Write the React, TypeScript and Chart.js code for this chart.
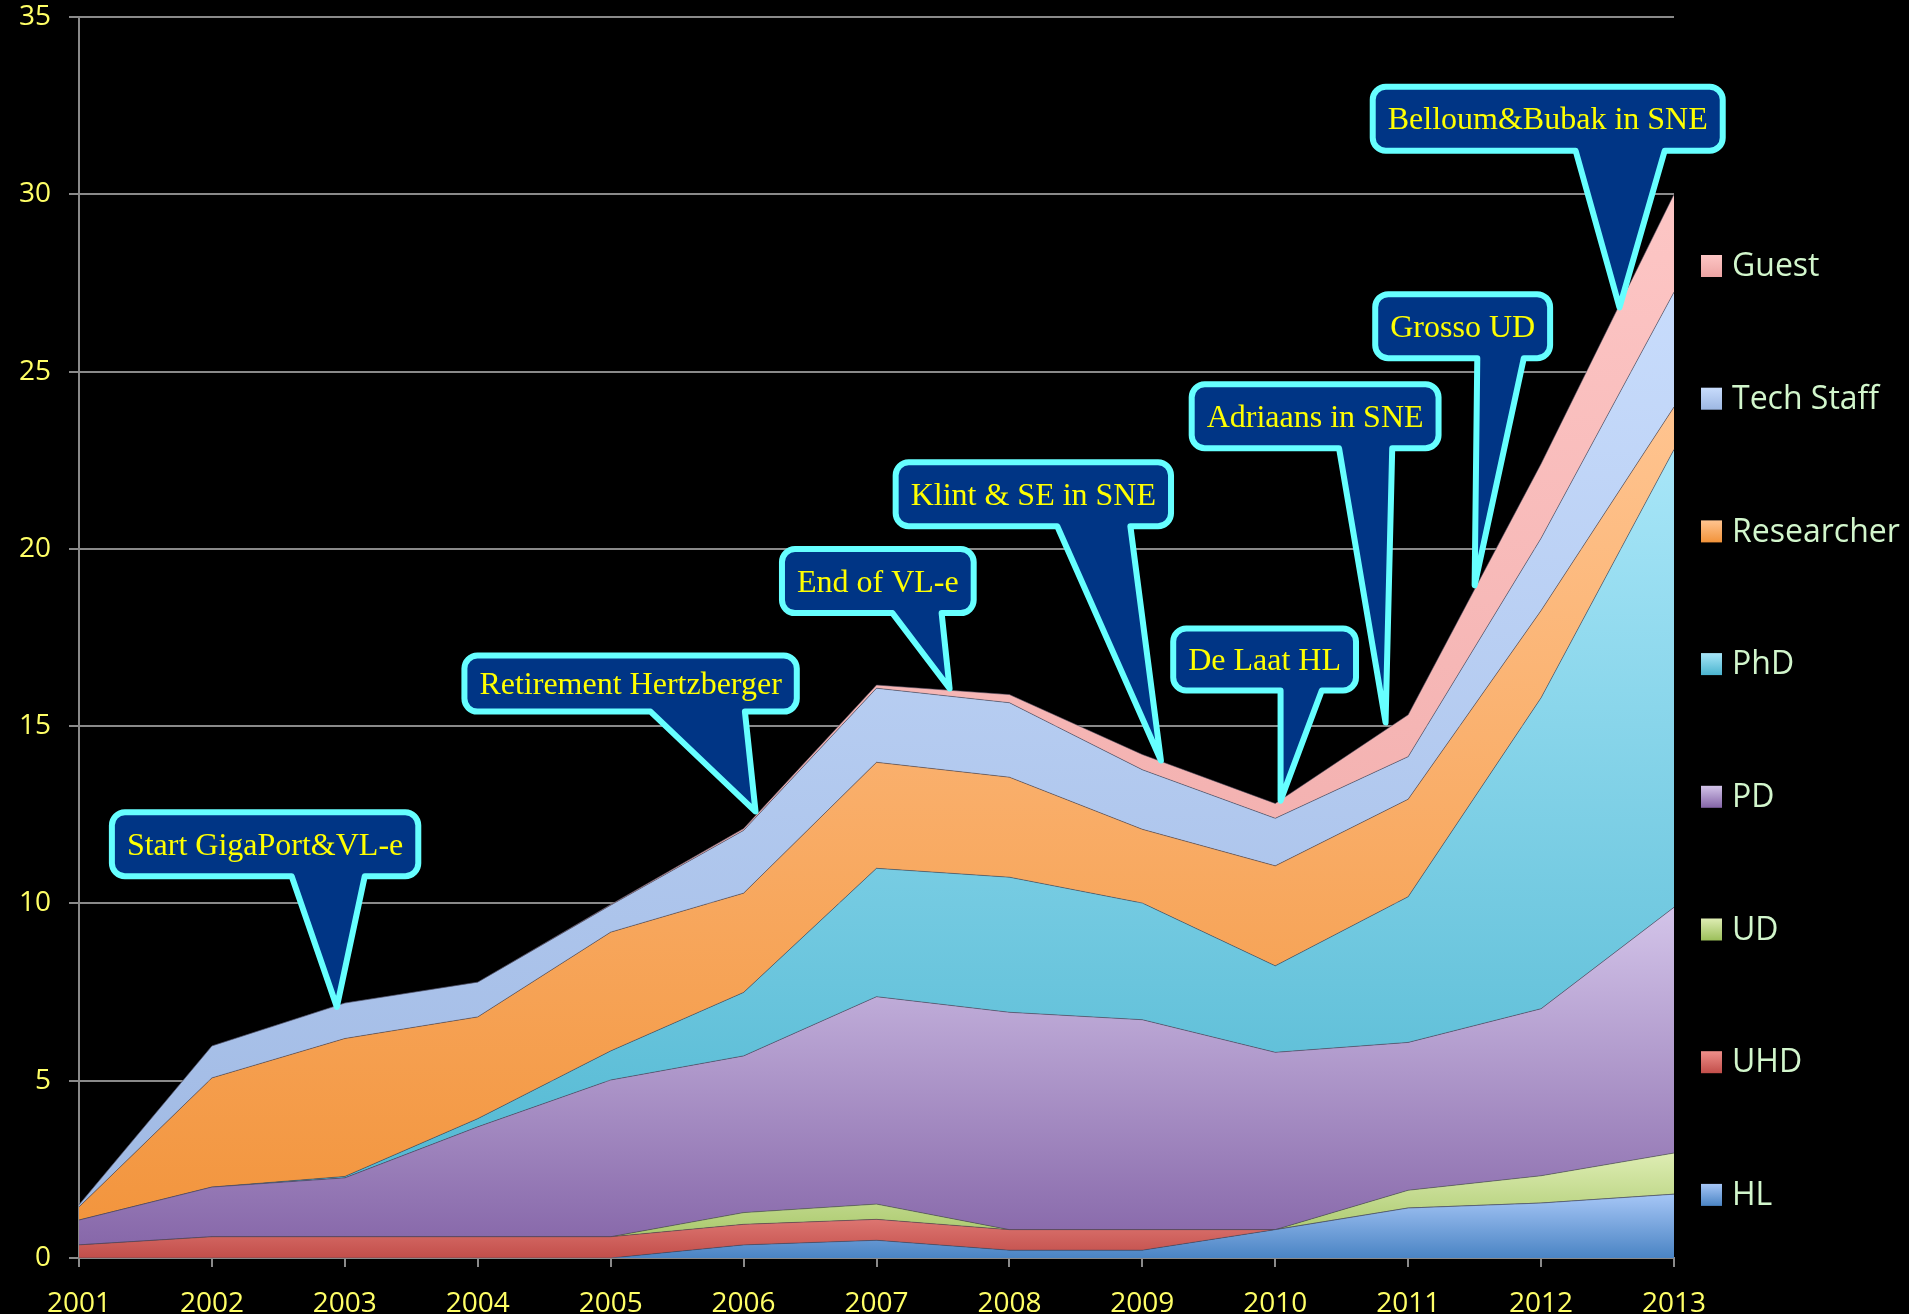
import React, { useEffect, useRef } from 'react';
import { Chart, registerables } from 'chart.js';

Chart.register(...registerables);

// ---------- data ----------
const YEARS = ['2001', '2002', '2003', '2004', '2005', '2006', '2007', '2008', '2009', '2010', '2011', '2012', '2013'];
const Y_TICKS = [0, 5, 10, 15, 20, 25, 30, 35];

const HL = [0, 0, 0, 0, 0, 0.37, 0.5, 0.22, 0.22, 0.8, 1.41, 1.55, 1.8];
const UHD = [0.37, 0.6, 0.6, 0.6, 0.6, 0.58, 0.59, 0.58, 0.58, 0, 0, 0, 0];
const UD = [0, 0, 0, 0, 0, 0.33, 0.43, 0, 0, 0, 0.5, 0.77, 1.16];
const PD = [0.7, 1.4, 1.66, 3.1, 4.42, 4.42, 5.85, 6.13, 5.92, 5.0, 4.17, 4.71, 6.93];
const PHD = [0, 0, 0.04, 0.23, 0.82, 1.79, 3.62, 3.81, 3.29, 2.44, 4.11, 8.77, 12.91];
const RESEARCHER = [0.37, 3.08, 3.89, 2.87, 3.35, 2.8, 2.99, 2.82, 2.08, 2.82, 2.75, 2.46, 1.2];
const TECH_STAFF = [0.06, 0.9, 1.0, 0.98, 0.76, 1.77, 2.09, 2.1, 1.68, 1.34, 1.2, 2.04, 3.24];
const GUEST = [0, 0, 0, 0, 0.02, 0.05, 0.09, 0.23, 0.43, 0.42, 1.18, 2.1, 2.76];

const SERIES_LABELS = ['HL', 'UHD', 'UD', 'PD', 'PhD', 'Researcher', 'Tech Staff', 'Guest'];
const SERIES_VALUES = [HL, UHD, UD, PD, PHD, RESEARCHER, TECH_STAFF, GUEST];

// callout annotations: text, box centre (year, value), tail base (year from, year to), tip (year, value)
const CALLOUT_TEXTS = [
  'Start GigaPort&VL-e',
  'Retirement Hertzberger',
  'End of VL-e',
  'Klint & SE in SNE',
  'De Laat HL',
  'Adriaans in SNE',
  'Grosso UD',
  'Belloum&Bubak in SNE',
];
const CALLOUT_BOX = [
  [2002.40, 11.67], [2005.15, 16.2], [2007.01, 19.09], [2008.18, 21.54],
  [2009.92, 16.88], [2010.30, 23.74], [2011.41, 26.28], [2012.05, 32.13],
];
const CALLOUT_TAIL = [
  [2002.60, 2003.15], [2005.30, 2006.01], [2007.12, 2007.49], [2008.36, 2008.91],
  [2010.04, 2010.35], [2010.48, 2010.88], [2011.52, 2011.87], [2012.26, 2012.93],
];
const CALLOUT_TIP = [
  [2002.94, 7.08], [2006.09, 12.59], [2007.55, 16.06], [2009.14, 14.03],
  [2010.04, 12.90], [2010.83, 15.10], [2011.50, 18.97], [2012.59, 26.81],
];

// ---------- styles ----------
const CALLOUT_HEIGHTS = [64, 56, 64, 64, 62, 64, 64, 64];
const GRADIENTS: Record<string, [string, string]> = {
  'HL': ['#a6c6f6', '#4a84c4'],
  'UHD': ['#ee8f8a', '#c24e4a'],
  'UD': ['#deedb3', '#9cbf5a'],
  'PD': ['#d3c4e9', '#8464a7'],
  'PhD': ['#a8e6f8', '#4ab4cf'],
  'Researcher': ['#ffc490', '#f2933a'],
  'Tech Staff': ['#c8dcfc', '#9db7e2'],
  'Guest': ['#fdc6c5', '#eda4a3'],
};
const BG = '#000000';
const GRID = '#8a8a8a';
const TICK_COLOR = '#ffff66';
const LEGEND_COLOR = '#d2f6cc';
const TICK_FONT = { family: '"Open Sans", sans-serif', size: 28 };

const W = 1909;
const H = 1314;

export default function App() {
  const ref = useRef<HTMLCanvasElement | null>(null);

  useEffect(() => {
    document.body.style.margin = '0';
    document.body.style.background = BG;
    document.body.style.overflow = 'hidden';
    const canvas = ref.current;
    if (!canvas) return;

    const year0 = Number(YEARS[0]);

    // cumulative max per series (for gradient extent)
    const cumMax: number[] = [];
    const running = YEARS.map(() => 0);
    SERIES_VALUES.forEach((vals, si) => {
      vals.forEach((v, i) => (running[i] += v));
      cumMax[si] = Math.max(...running);
    });

    const makeFill = (label: string, maxVal: number) => (ctx: any) => {
      const chart = ctx.chart;
      const y = chart.scales && chart.scales.y;
      const [top, bottom] = GRADIENTS[label];
      if (!chart.chartArea || !y) return bottom;
      const y0 = y.getPixelForValue(maxVal);
      const y1 = y.getPixelForValue(0);
      const g = chart.ctx.createLinearGradient(0, y0, 0, y1);
      g.addColorStop(0, top);
      g.addColorStop(1, bottom);
      return g;
    };

    const datasets = SERIES_LABELS.map((label, si) => ({
      label,
      data: SERIES_VALUES[si],
      fill: si === 0 ? 'origin' : '-1',
      backgroundColor: makeFill(label, cumMax[si]),
      borderColor: 'rgba(70,70,90,0.55)',
      borderWidth: 1,
      pointRadius: 0,
      pointHoverRadius: 0,
      tension: 0,
    }));

    const bgPlugin = {
      id: 'bg',
      beforeDraw(chart: any) {
        const c = chart.ctx;
        c.save();
        c.fillStyle = BG;
        c.fillRect(0, 0, chart.width, chart.height);
        c.restore();
      },
    };

    const calloutPlugin = {
      id: 'callouts',
      afterDatasetsDraw(chart: any) {
        const { ctx, scales } = chart;
        const xs = scales.x;
        const ys = scales.y;
        const px = (yr: number) => xs.getPixelForValue(yr - year0);
        ctx.save();
        ctx.font = '32px "Liberation Serif", "Times New Roman", serif';
        CALLOUT_TEXTS.forEach((text, i) => {
          const tw = ctx.measureText(text).width;
          const cx = px(CALLOUT_BOX[i][0]);
          const cy = ys.getPixelForValue(CALLOUT_BOX[i][1]);
          const w = tw + 30;
          const h = CALLOUT_HEIGHTS[i];
          const r = 13;
          const L = cx - w / 2, R = cx + w / 2, T = cy - h / 2, B = cy + h / 2;
          const b1 = px(CALLOUT_TAIL[i][0]);
          const b2 = px(CALLOUT_TAIL[i][1]);
          const tx = px(CALLOUT_TIP[i][0]);
          const ty = ys.getPixelForValue(CALLOUT_TIP[i][1]);
          ctx.beginPath();
          ctx.moveTo(L + r, T);
          ctx.lineTo(R - r, T);
          ctx.arcTo(R, T, R, T + r, r);
          ctx.lineTo(R, B - r);
          ctx.arcTo(R, B, R - r, B, r);
          ctx.lineTo(b2, B);
          ctx.lineTo(tx, ty);
          ctx.lineTo(b1, B);
          ctx.lineTo(L + r, B);
          ctx.arcTo(L, B, L, B - r, r);
          ctx.lineTo(L, T + r);
          ctx.arcTo(L, T, L + r, T, r);
          ctx.closePath();
          ctx.fillStyle = '#003585';
          ctx.fill();
          ctx.lineJoin = 'round';
          ctx.lineWidth = 6;
          ctx.strokeStyle = '#66ffff';
          ctx.stroke();
          ctx.fillStyle = '#ffff00';
          ctx.textAlign = 'center';
          ctx.textBaseline = 'middle';
          ctx.fillText(text, cx, cy + 2);
        });
        ctx.restore();
      },
    };

    const legendPlugin = {
      id: 'sideLegend',
      afterDraw(chart: any) {
        const { ctx } = chart;
        const ds = chart.data.datasets;
        ctx.save();
        ctx.font = '32px "Open Sans", sans-serif';
        ctx.textBaseline = 'middle';
        ctx.textAlign = 'left';
        const n = ds.length;
        for (let k = 0; k < n; k++) {
          const d = ds[n - 1 - k];
          const cy = 266 + k * 132.7;
          const [top, bottom] = GRADIENTS[d.label];
          const g = ctx.createLinearGradient(0, cy - 11, 0, cy + 11);
          g.addColorStop(0, top);
          g.addColorStop(1, bottom);
          ctx.fillStyle = g;
          ctx.fillRect(1701, cy - 11, 21, 22);
          ctx.fillStyle = LEGEND_COLOR;
          ctx.fillText(d.label, 1732, cy + 1);
        }
        ctx.restore();
      },
    };

    const chart = new Chart(canvas, {
      type: 'line',
      data: { labels: YEARS, datasets: datasets as any },
      plugins: [bgPlugin, calloutPlugin, legendPlugin],
      options: {
        responsive: false,
        animation: false,
        events: [],
        layout: { padding: { left: 0, right: W - 1674, top: 0, bottom: 0 } },
        plugins: {
          legend: { display: false },
          tooltip: { enabled: false },
          title: { display: false },
        },
        scales: {
          x: {
            type: 'category',
            offset: false,
            grid: {
              display: true,
              drawOnChartArea: false,
              drawTicks: true,
              tickLength: 9,
              color: GRID,
              lineWidth: 2,
            },
            border: { display: true, color: GRID, width: 2 },
            ticks: { color: TICK_COLOR, font: TICK_FONT, padding: 20, maxRotation: 0, autoSkip: false },
            afterFit: (s: any) => { s.height = H - 1258; },
          },
          y: {
            stacked: true,
            min: Y_TICKS[0],
            max: Y_TICKS[Y_TICKS.length - 1],
            grid: { color: GRID, lineWidth: 2, tickLength: 10, drawTicks: true },
            border: { display: true, color: GRID, width: 2 },
            ticks: { stepSize: 5, color: TICK_COLOR, font: TICK_FONT, padding: 18 },
            afterFit: (s: any) => {
              s.width = 79;
              s.paddingTop = 17;
            },
          },
        },
      },
    });

    return () => chart.destroy();
  }, []);

  return (
    <div style={{ width: W, height: H, background: BG }}>
      <canvas ref={ref} width={W} height={H} style={{ display: 'block' }} />
    </div>
  );
}
